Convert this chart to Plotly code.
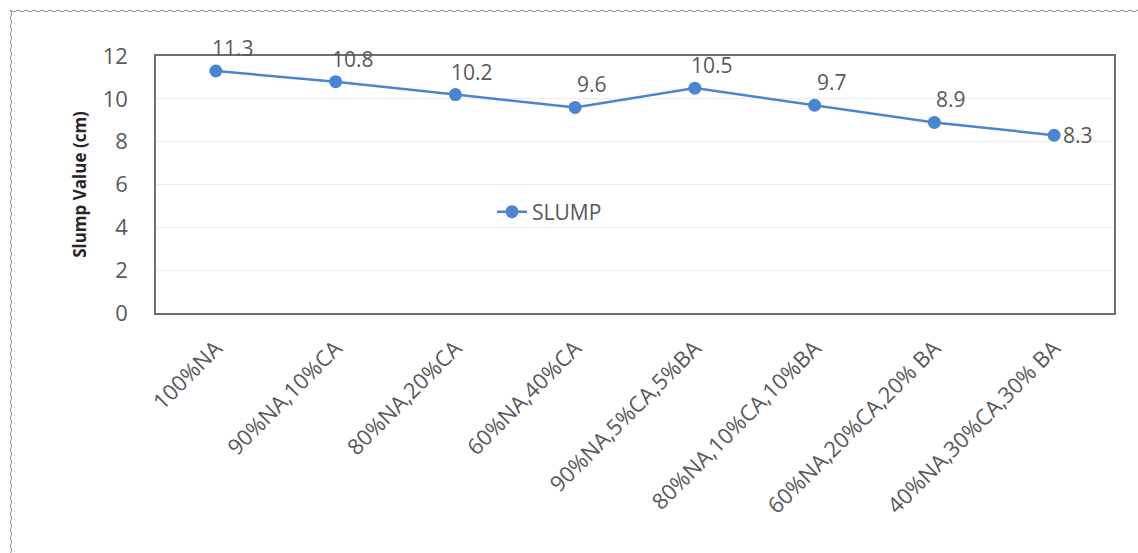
import numpy as np
import plotly.graph_objects as go

categories = ["100%NA", "90%NA,10%CA", "80%NA,20%CA", "60%NA,40%CA",
              "90%NA,5%CA,5%BA", "80%NA,10%CA,10%BA", "60%NA,20%CA,20% BA",
              "40%NA,30%CA,30% BA"]
slump = [11.3, 10.8, 10.2, 9.6, 10.5, 9.7, 8.9, 8.3]
label_pos = ["above", "above", "above", "above", "above", "above", "above", "right"]
y_ticks = [0, 2, 4, 6, 8, 10, 12]

W, H = 1138, 553
ML, MR, MT, MB = 156, 24, 56, 240
PW, PH = W - ML - MR, H - MT - MB

LINE = "#4a86d0"
TXT = "#595959"
FONT = "Open Sans, Liberation Sans, sans-serif"

fig = go.Figure()
fig.add_trace(go.Scatter(
    x=list(range(len(categories))), y=slump, mode="lines+markers", name="SLUMP",
    line=dict(color=LINE, width=2.5),
    marker=dict(color=LINE, size=13),
))

for i, (v, p) in enumerate(zip(slump, label_pos)):
    if p == "above":
        fig.add_annotation(x=i, y=v, text=str(v), showarrow=False,
                           xshift=17, yshift=23, font=dict(size=21, color=TXT, family=FONT))
    else:
        fig.add_annotation(x=i, y=v, text=str(v), showarrow=False,
                           xanchor="left", xshift=7, yshift=0,
                           font=dict(size=21, color=TXT, family=FONT))

def px2paper(px, py):
    return (np.asarray(px) - ML) / PW, (MT + PH - np.asarray(py)) / PH

# decorative wavy frame (top and left edges)
xs = np.arange(10, W + 1, 1.0)
ys = 10 + 1.5 * np.abs(np.sin(np.pi * (xs - 10) / 8.0))
px_, py_ = px2paper(xs, ys)
path = "M " + " L ".join(f"{a:.5f},{b:.5f}" for a, b in zip(px_, py_))
fig.add_shape(type="path", path=path, xref="paper", yref="paper",
              line=dict(color="#8a8a8a", width=1))
ys2 = np.arange(10, H + 1, 1.0)
xs2 = 10 + 1.5 * np.abs(np.sin(np.pi * (ys2 - 10) / 8.0))
px2, py2 = px2paper(xs2, ys2)
path2 = "M " + " L ".join(f"{a:.5f},{b:.5f}" for a, b in zip(px2, py2))
fig.add_shape(type="path", path=path2, xref="paper", yref="paper",
              line=dict(color="#8a8a8a", width=1))

fig.update_layout(
    width=W, height=H,
    margin=dict(l=ML, r=MR, t=MT, b=MB),
    paper_bgcolor="white", plot_bgcolor="white",
    font=dict(family=FONT, color=TXT),
    showlegend=True,
    legend=dict(x=(492 - ML) / PW, y=(313 - 212) / PH, xanchor="left", yanchor="middle",
                bgcolor="rgba(0,0,0,0)", font=dict(size=21, color=TXT, family=FONT)),
    xaxis=dict(
        range=[-0.5, len(categories) - 0.5],
        tickmode="array", tickvals=list(range(len(categories))), ticktext=categories,
        tickangle=-45, tickfont=dict(size=22, color=TXT, family=FONT),
        showgrid=False, showline=True, linecolor="#6f6f6f", linewidth=1.5, mirror=True,
        zeroline=False, ticks="", ticklabelstandoff=12,
    ),
    yaxis=dict(
        range=[0, 12], tickvals=y_ticks,
        tickfont=dict(size=22, color=TXT, family=FONT),
        showgrid=True, gridcolor="#ececec", gridwidth=1,
        showline=True, linecolor="#6f6f6f", linewidth=1.5, mirror=True,
        zeroline=False, ticks="", ticklabelstandoff=22,
        title=dict(text="<b>Slump Value (cm)</b>", standoff=12,
                   font=dict(size=17, color="#262626", family=FONT)),
    ),
)

fig.write_html("out.html", config={"displayModeBar": False},
               post_script="document.body.style.margin='0';")
